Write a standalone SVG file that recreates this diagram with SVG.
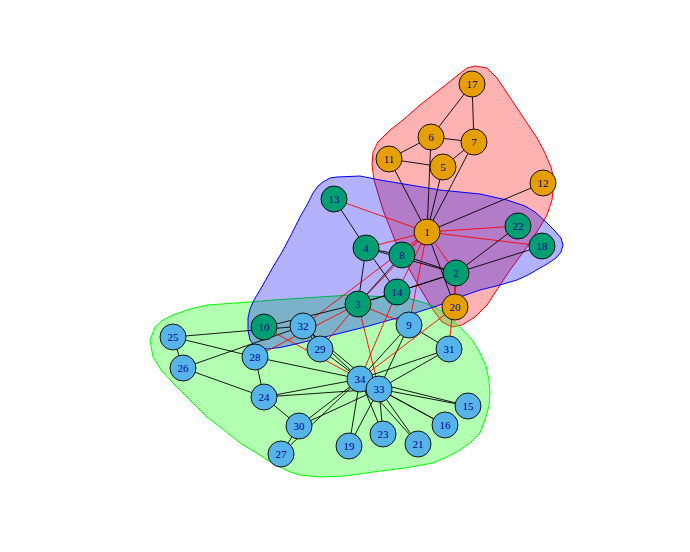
<svg xmlns="http://www.w3.org/2000/svg" width="690" height="552" viewBox="0 0 690 552">
<style>
.k{stroke:#000;stroke-width:0.9}
.r{stroke:#f00;stroke-width:0.9}
.n circle{stroke:#000;stroke-width:0.9}
.a circle{fill:#E69F00}
.b circle{fill:#009E73}
.c circle{fill:#56B4E9}
.n text{font-family:"Liberation Serif",serif;font-size:11px;fill:#00008B;text-anchor:middle;dominant-baseline:central}
.hull{stroke-width:1;stroke-linejoin:round}
</style>
<rect width="690" height="552" fill="#fff"/>
<g id="groups">
<polygon class="hull" fill="#f00" fill-opacity="0.3" stroke="#f00" points="475,66 487,68 497,78 507,93 517,108 527,123 537,138 545,153 551,167 554,180 552,200 547,215 540,227 527,247 510,270 500,285 487,305 475,317 462,325 452,327 442,322 433,310 417,283 400,253 383,210 374,180 372,165 373,152 378,142 390,130 403,120 420,105 443,87 458,75 467,68"/>
<polygon class="hull" fill="#0f0" fill-opacity="0.3" stroke="#0f0" points="150,340 155,327 163,320 173,315 190,309 207,305 250,302 273,300 350,295 407,298 422,302 433,306 445,313 463,330 473,341 480,353 486,366 489,380 490,393 489,406 485,420 480,433 470,443 460,450 447,457 433,463 405,468 373,472 345,476 320,477 300,475 290,472 278,466 267,460 255,452 240,443 224,430 207,417 190,400 173,383 161,370 153,357"/>
<polygon class="hull" fill="#00f" fill-opacity="0.3" stroke="#00f" points="313,193 318,186 323,182 330,178 337,177 360,176 380,180 410,185 440,190 480,194 507,200 525,206 535,212 547,223 555,231 561,238 563,245 561,252 556,258 547,264 540,268 528,275 517,280 500,285 480,290 457,298 437,306 415,313 397,318 365,327 333,335 300,343 283,347 268,349 260,348 254,345 250,340 248,330 248,318 250,309 254,300 260,290 273,267 282,252 290,237 300,217 307,205"/>
</g>
<g id="edges">
<line class="r" x1="427" y1="232" x2="456" y2="273"/>
<line class="r" x1="427" y1="232" x2="358" y2="304"/>
<line class="r" x1="427" y1="232" x2="366" y2="248"/>
<line class="k" x1="427" y1="232" x2="443" y2="167"/>
<line class="k" x1="427" y1="232" x2="431" y2="137"/>
<line class="k" x1="427" y1="232" x2="474" y2="142"/>
<line class="r" x1="427" y1="232" x2="402" y2="255"/>
<line class="r" x1="427" y1="232" x2="409" y2="325"/>
<line class="k" x1="427" y1="232" x2="389" y2="159"/>
<line class="k" x1="427" y1="232" x2="543" y2="183"/>
<line class="r" x1="427" y1="232" x2="334" y2="199"/>
<line class="r" x1="427" y1="232" x2="397" y2="292"/>
<line class="r" x1="427" y1="232" x2="542" y2="246"/>
<line class="k" x1="427" y1="232" x2="455" y2="307"/>
<line class="r" x1="427" y1="232" x2="518" y2="226"/>
<line class="r" x1="427" y1="232" x2="303" y2="326"/>
<line class="k" x1="456" y1="273" x2="358" y2="304"/>
<line class="k" x1="456" y1="273" x2="366" y2="248"/>
<line class="k" x1="456" y1="273" x2="402" y2="255"/>
<line class="k" x1="456" y1="273" x2="397" y2="292"/>
<line class="k" x1="456" y1="273" x2="542" y2="246"/>
<line class="r" x1="456" y1="273" x2="455" y2="307"/>
<line class="k" x1="456" y1="273" x2="518" y2="226"/>
<line class="r" x1="456" y1="273" x2="449" y2="349"/>
<line class="k" x1="358" y1="304" x2="366" y2="248"/>
<line class="k" x1="358" y1="304" x2="402" y2="255"/>
<line class="r" x1="358" y1="304" x2="409" y2="325"/>
<line class="k" x1="358" y1="304" x2="264" y2="327"/>
<line class="k" x1="358" y1="304" x2="397" y2="292"/>
<line class="r" x1="358" y1="304" x2="255" y2="357"/>
<line class="r" x1="358" y1="304" x2="320" y2="349"/>
<line class="r" x1="358" y1="304" x2="379" y2="389"/>
<line class="k" x1="366" y1="248" x2="402" y2="255"/>
<line class="k" x1="366" y1="248" x2="334" y2="199"/>
<line class="k" x1="366" y1="248" x2="397" y2="292"/>
<line class="k" x1="443" y1="167" x2="474" y2="142"/>
<line class="k" x1="443" y1="167" x2="389" y2="159"/>
<line class="k" x1="431" y1="137" x2="474" y2="142"/>
<line class="k" x1="431" y1="137" x2="389" y2="159"/>
<line class="k" x1="431" y1="137" x2="472" y2="84"/>
<line class="k" x1="474" y1="142" x2="472" y2="84"/>
<line class="k" x1="409" y1="325" x2="449" y2="349"/>
<line class="k" x1="409" y1="325" x2="379" y2="389"/>
<line class="k" x1="409" y1="325" x2="360" y2="379"/>
<line class="r" x1="264" y1="327" x2="360" y2="379"/>
<line class="r" x1="397" y1="292" x2="360" y2="379"/>
<line class="k" x1="468" y1="406" x2="379" y2="389"/>
<line class="k" x1="468" y1="406" x2="360" y2="379"/>
<line class="k" x1="445" y1="425" x2="379" y2="389"/>
<line class="k" x1="445" y1="425" x2="360" y2="379"/>
<line class="k" x1="349" y1="446" x2="379" y2="389"/>
<line class="k" x1="349" y1="446" x2="360" y2="379"/>
<line class="r" x1="455" y1="307" x2="360" y2="379"/>
<line class="k" x1="418" y1="444" x2="379" y2="389"/>
<line class="k" x1="418" y1="444" x2="360" y2="379"/>
<line class="k" x1="383" y1="434" x2="379" y2="389"/>
<line class="k" x1="383" y1="434" x2="360" y2="379"/>
<line class="k" x1="264" y1="397" x2="183" y2="368"/>
<line class="k" x1="264" y1="397" x2="255" y2="357"/>
<line class="k" x1="264" y1="397" x2="299" y2="426"/>
<line class="k" x1="264" y1="397" x2="379" y2="389"/>
<line class="k" x1="264" y1="397" x2="360" y2="379"/>
<line class="k" x1="173" y1="337" x2="183" y2="368"/>
<line class="k" x1="173" y1="337" x2="255" y2="357"/>
<line class="k" x1="173" y1="337" x2="303" y2="326"/>
<line class="k" x1="183" y1="368" x2="303" y2="326"/>
<line class="k" x1="281" y1="454" x2="299" y2="426"/>
<line class="k" x1="281" y1="454" x2="360" y2="379"/>
<line class="k" x1="255" y1="357" x2="360" y2="379"/>
<line class="k" x1="320" y1="349" x2="303" y2="326"/>
<line class="k" x1="320" y1="349" x2="360" y2="379"/>
<line class="k" x1="299" y1="426" x2="379" y2="389"/>
<line class="k" x1="299" y1="426" x2="360" y2="379"/>
<line class="k" x1="449" y1="349" x2="379" y2="389"/>
<line class="k" x1="449" y1="349" x2="360" y2="379"/>
<line class="k" x1="303" y1="326" x2="379" y2="389"/>
<line class="k" x1="303" y1="326" x2="360" y2="379"/>
<line class="k" x1="379" y1="389" x2="360" y2="379"/>
</g>
<g id="node1" class="n a"><circle cx="427" cy="232" r="13"/><text x="427" y="232">1</text></g>
<g id="node2" class="n b"><circle cx="456" cy="273" r="13"/><text x="456" y="273">2</text></g>
<g id="node3" class="n b"><circle cx="358" cy="304" r="13"/><text x="358" y="304">3</text></g>
<g id="node4" class="n b"><circle cx="366" cy="248" r="13"/><text x="366" y="248">4</text></g>
<g id="node5" class="n a"><circle cx="443" cy="167" r="13"/><text x="443" y="167">5</text></g>
<g id="node6" class="n a"><circle cx="431" cy="137" r="13"/><text x="431" y="137">6</text></g>
<g id="node7" class="n a"><circle cx="474" cy="142" r="13"/><text x="474" y="142">7</text></g>
<g id="node8" class="n b"><circle cx="402" cy="255" r="13"/><text x="402" y="255">8</text></g>
<g id="node9" class="n c"><circle cx="409" cy="325" r="13"/><text x="409" y="325">9</text></g>
<g id="node10" class="n b"><circle cx="264" cy="327" r="13"/><text x="264" y="327">10</text></g>
<g id="node11" class="n a"><circle cx="389" cy="159" r="13"/><text x="389" y="159">11</text></g>
<g id="node12" class="n a"><circle cx="543" cy="183" r="13"/><text x="543" y="183">12</text></g>
<g id="node13" class="n b"><circle cx="334" cy="199" r="13"/><text x="334" y="199">13</text></g>
<g id="node14" class="n b"><circle cx="397" cy="292" r="13"/><text x="397" y="292">14</text></g>
<g id="node15" class="n c"><circle cx="468" cy="406" r="13"/><text x="468" y="406">15</text></g>
<g id="node16" class="n c"><circle cx="445" cy="425" r="13"/><text x="445" y="425">16</text></g>
<g id="node17" class="n a"><circle cx="472" cy="84" r="13"/><text x="472" y="84">17</text></g>
<g id="node18" class="n b"><circle cx="542" cy="246" r="13"/><text x="542" y="246">18</text></g>
<g id="node19" class="n c"><circle cx="349" cy="446" r="13"/><text x="349" y="446">19</text></g>
<g id="node20" class="n a"><circle cx="455" cy="307" r="13"/><text x="455" y="307">20</text></g>
<g id="node21" class="n c"><circle cx="418" cy="444" r="13"/><text x="418" y="444">21</text></g>
<g id="node22" class="n b"><circle cx="518" cy="226" r="13"/><text x="518" y="226">22</text></g>
<g id="node23" class="n c"><circle cx="383" cy="434" r="13"/><text x="383" y="434">23</text></g>
<g id="node24" class="n c"><circle cx="264" cy="397" r="13"/><text x="264" y="397">24</text></g>
<g id="node25" class="n c"><circle cx="173" cy="337" r="13"/><text x="173" y="337">25</text></g>
<g id="node26" class="n c"><circle cx="183" cy="368" r="13"/><text x="183" y="368">26</text></g>
<g id="node27" class="n c"><circle cx="281" cy="454" r="13"/><text x="281" y="454">27</text></g>
<g id="node28" class="n c"><circle cx="255" cy="357" r="13"/><text x="255" y="357">28</text></g>
<g id="node29" class="n c"><circle cx="320" cy="349" r="13"/><text x="320" y="349">29</text></g>
<g id="node30" class="n c"><circle cx="299" cy="426" r="13"/><text x="299" y="426">30</text></g>
<g id="node31" class="n c"><circle cx="449" cy="349" r="13"/><text x="449" y="349">31</text></g>
<g id="node32" class="n c"><circle cx="303" cy="326" r="13"/><text x="303" y="326">32</text></g>
<g id="node34" class="n c"><circle cx="360" cy="379" r="13"/><text x="360" y="379">34</text></g>
<g id="node33" class="n c"><circle cx="379" cy="389" r="13"/><text x="379" y="389">33</text></g>
</svg>
